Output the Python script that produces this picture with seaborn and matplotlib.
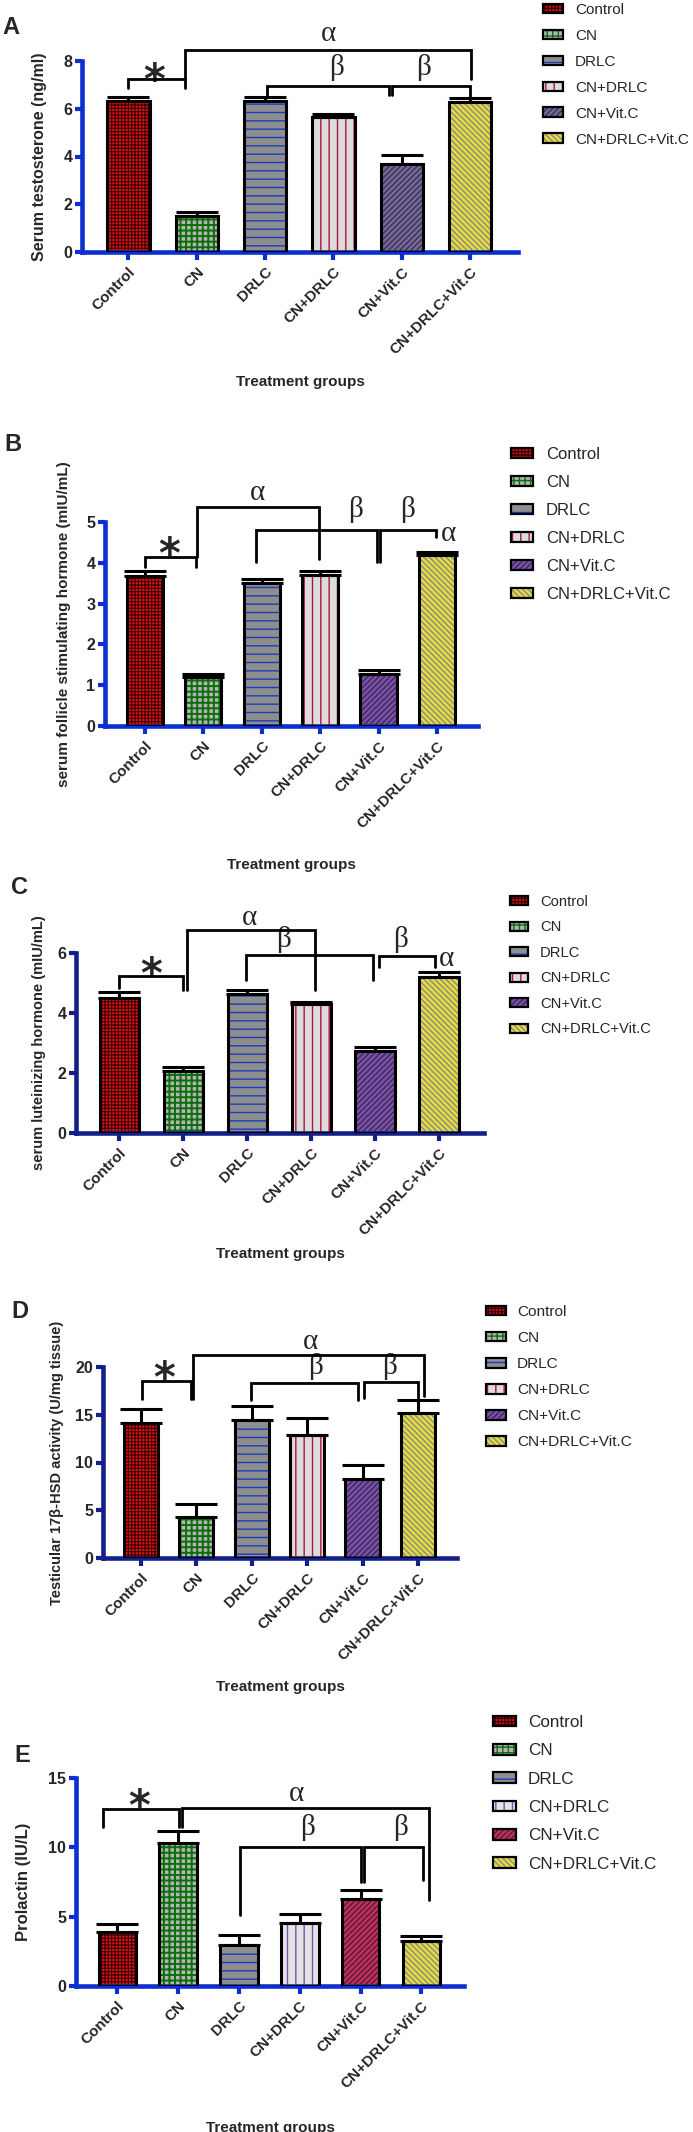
"""
Reproductive hormone panels (A-E)
Bar charts with mean + SEM and significance brackets
"""

import numpy as np
import pandas as pd

import matplotlib
matplotlib.use("Agg")
import matplotlib.pyplot as plt
from matplotlib.patches import Patch, Rectangle
import seaborn as sns

sns.set_style("white")
plt.rcParams["font.family"] = ["Liberation Sans", "DejaVu Sans"]
plt.rcParams["hatch.linewidth"] = 1.0

##########################################################
# Data
##########################################################

groups = ["Control", "CN", "DRLC", "CN+DRLC", "CN+Vit.C", "CN+DRLC+Vit.C"]

testosterone = [6.33, 1.52, 6.34, 5.66, 3.69, 6.30]
testosterone_sem = [0.17, 0.17, 0.16, 0.12, 0.37, 0.17]

fsh = [3.68, 1.20, 3.50, 3.69, 1.27, 4.19]
fsh_sem = [0.12, 0.07, 0.10, 0.11, 0.10, 0.07]

lh = [4.50, 2.08, 4.63, 4.29, 2.73, 5.20]
lh_sem = [0.19, 0.12, 0.15, 0.08, 0.14, 0.16]

hsd = [14.17, 4.26, 14.42, 12.90, 8.27, 15.15]
hsd_sem = [1.40, 1.36, 1.50, 1.80, 1.43, 1.43]

prolactin = [3.89, 10.30, 2.98, 4.54, 6.26, 3.26]
prolactin_sem = [0.55, 0.86, 0.67, 0.62, 0.65, 0.36]

y_labels = [
    "Serum testosterone (ng/ml)",
    "serum follicle stimulating hormone (mIU/mL)",
    "serum luteinizing hormone (mIU/mL)",
    "Testicular 17\u03b2-HSD activity (U/mg tissue)",
    "Prolactin (IU/L)",
]

y_ticks = [
    [0, 2, 4, 6, 8],
    [0, 1, 2, 3, 4, 5],
    [0, 2, 4, 6],
    [0, 5, 10, 15, 20],
    [0, 5, 10, 15],
]

##########################################################
# Bar styles  (face colour, hatch, hatch colour, hatch lw)
##########################################################

base_style = [
    ("#e81010", "+++++", "#300000", 0.8),
    ("#b4b4b4", "+++", "#0b6e0b", 1.4),
    ("#8e8e8e", "--", "#1a3cc0", 1.0),
    ("#dcdcdc", "||", "#b01040", 1.0),
    ("#76689a", "//////", "#3a3050", 1.0),
    ("#e6dc3c", "\\\\\\\\\\\\", "#8a8a8a", 1.0),
]

purple_vitc = ("#7a50a8", "//////", "#3a2a55", 1.0)
red_vitc = ("#c0305e", "//////", "#5a1a30", 1.0)
purple_lines = ("#e4e4e4", "||", "#7a50b0", 1.0)

##########################################################
# Layout helpers (pixel boxes on a 693 x 2132 canvas)
##########################################################

W, H = 693, 2132
XLIM = (-0.68, 5.7)


def fig_box(left, top, right, bottom):
    return [left / W, 1 - bottom / H, (right - left) / W, (bottom - top) / H]


def bracket(ax, x1, x2, ytop, yleft, yright):
    ax.plot(
        [x1, x1, x2, x2],
        [yleft, ytop, ytop, yright],
        color="black",
        lw=2,
        clip_on=False,
        solid_joinstyle="miter",
        zorder=5,
    )


def mark(ax, sym, x, y):
    if sym == "*":
        ax.annotate(
            sym, (x, y), xytext=(0, -8), textcoords="offset points",
            ha="center", va="center", fontsize=30, fontweight="bold",
            family="DejaVu Sans", annotation_clip=False,
        )
    else:
        ax.annotate(
            sym, (x, y), xytext=(0, 2), textcoords="offset points",
            ha="center", va="center", fontsize=21,
            family="Liberation Serif", annotation_clip=False,
        )


##########################################################
# Panel definitions
##########################################################

panels = [
    dict(
        letter="A", letter_xy=(11, 28),
        values=testosterone, sem=testosterone_sem,
        ylabel=y_labels[0], ylabel_size=11.5, ylabel_x=47,
        ticks=y_ticks[0], box=(82, 61, 518, 252), xlabel_y=375,
        axis_color="#0b2fd0",
        styles=base_style,
        legend=dict(x=543, y=3, fs=11, hl=20, pad=12),
        brackets=[
            (0.0, 0.83, 7.25, 6.86, 6.86),
            (0.83, 5.01, 8.46, 7.25, 7.25),
            (2.02, 3.81, 6.95, 6.5, 6.58),
            (3.85, 5.0, 6.95, 6.58, 6.5),
        ],
        marks=[("*", 0.38, 7.6), ("\u03b1", 2.92, 9.02),
               ("\u03b2", 3.04, 7.62), ("\u03b2", 4.32, 7.62)],
    ),
    dict(
        letter="B", letter_xy=(13, 445),
        values=fsh, sem=fsh_sem,
        ylabel=y_labels[1], ylabel_size=11, ylabel_x=71,
        ticks=y_ticks[1], box=(105, 522, 478, 726), xlabel_y=858,
        axis_color="#0b2fd0",
        styles=base_style[:4] + [purple_vitc] + base_style[5:],
        legend=dict(x=511, y=447, fs=12, hl=22, pad=13),
        brackets=[
            (0.0, 0.88, 4.13, 3.9, 3.9),
            (0.9, 2.98, 5.37, 4.13, 4.1),
            (1.91, 3.98, 4.8, 4.02, 4.02),
            (4.02, 4.98, 4.8, 4.02, 4.63),
        ],
        marks=[("*", 0.41, 4.43), ("\u03b1", 1.93, 5.65),
               ("\u03b2", 3.6, 5.24), ("\u03b2", 4.5, 5.24),
               ("\u03b1", 5.19, 4.63)],
    ),
    dict(
        letter="C", letter_xy=(19, 888),
        values=lh, sem=lh_sem,
        ylabel=y_labels[2], ylabel_size=10.5, ylabel_x=46,
        ticks=y_ticks[2], box=(76, 953, 484, 1133), xlabel_y=1247,
        axis_color="#13208a",
        styles=base_style[:4] + [purple_vitc] + base_style[5:],
        legend=dict(x=510, y=895, fs=10.6, hl=18, pad=12),
        brackets=[
            (0.0, 1.0, 5.22, 4.83, 4.78),
            (1.05, 3.05, 6.76, 4.78, 4.78),
            (1.98, 3.97, 5.94, 5.11, 5.11),
            (4.06, 4.93, 5.91, 5.53, 5.53),
        ],
        marks=[("*", 0.5, 5.61), ("\u03b1", 2.04, 7.09),
               ("\u03b2", 2.56, 6.36), ("\u03b2", 4.39, 6.36),
               ("\u03b1", 5.12, 5.72)],
    ),
    dict(
        letter="D", letter_xy=(20, 1311),
        values=hsd, sem=hsd_sem,
        ylabel=y_labels[3], ylabel_size=10.5, ylabel_x=64,
        ticks=y_ticks[3], box=(103, 1367, 457, 1558), xlabel_y=1680,
        axis_color="#13208a",
        styles=base_style[:4] + [purple_vitc] + base_style[5:],
        legend=dict(x=486, y=1305, fs=11.1, hl=20, pad=11),
        brackets=[
            (0.02, 0.91, 18.53, 16.68, 16.68),
            (0.95, 5.1, 21.26, 16.68, 16.93),
            (1.99, 3.91, 18.32, 16.58, 16.58),
            (4.03, 5.0, 18.43, 16.79, 16.79),
        ],
        marks=[("*", 0.42, 19.83), ("\u03b1", 3.06, 22.37),
               ("\u03b2", 3.15, 19.72), ("\u03b2", 4.49, 19.72)],
    ),
    dict(
        letter="E", letter_xy=(22, 1755),
        values=prolactin, sem=prolactin_sem,
        ylabel=y_labels[4], ylabel_size=12, ylabel_x=31,
        ticks=y_ticks[4], box=(76, 1778, 464, 1986), xlabel_y=2121,
        axis_color="#0b2fd0",
        styles=base_style[:3] + [purple_lines, red_vitc] + base_style[5:],
        legend=dict(x=493, y=1715, fs=12.3, hl=23, pad=12),
        brackets=[
            (-0.23, 1.01, 12.74, 11.47, 11.47),
            (1.07, 5.13, 12.84, 11.47, 6.19),
            (2.02, 4.01, 10.03, 5.11, 7.51),
            (4.06, 5.02, 10.03, 7.51, 7.63),
        ],
        marks=[("*", 0.36, 13.63), ("\u03b1", 2.94, 13.63),
               ("\u03b2", 3.13, 11.23), ("\u03b2", 4.66, 11.23)],
    ),
]

##########################################################
# Draw
##########################################################

fig = plt.figure(figsize=(W / 100, H / 100), dpi=100)

for p in panels:

    left, top, right, bottom = p["box"]
    ax = fig.add_axes(fig_box(left, top, right, bottom))

    df = pd.DataFrame({"group": groups, "value": p["values"]})
    faces = [s[0] for s in p["styles"]]

    sns.barplot(
        data=df, x="group", y="value", hue="group",
        palette=faces, saturation=1, width=0.62,
        errorbar=None, legend=False, ax=ax,
    )

    # hatch fill, then a black outline drawn on top
    for bar, (face, hatch, hcol, hlw) in zip(ax.patches, p["styles"]):
        bar.set_hatch(hatch)
        bar.set_edgecolor(hcol)
        bar.set_linewidth(0)
        if hasattr(bar, "set_hatch_linewidth"):
            bar.set_hatch_linewidth(hlw)
        ax.add_patch(Rectangle(
            (bar.get_x(), bar.get_y()), bar.get_width(), bar.get_height(),
            fill=False, edgecolor="black", linewidth=2.2, zorder=3,
        ))

    ax.errorbar(
        np.arange(len(groups)), p["values"],
        yerr=[np.zeros(len(groups)), p["sem"]],
        fmt="none", ecolor="black", elinewidth=2.2,
        capsize=15, capthick=2.2, zorder=2,
    )

    ax.set_xlim(*XLIM)
    ax.set_ylim(p["ticks"][0], p["ticks"][-1])
    ax.set_yticks(p["ticks"])
    ax.set_xticks(range(len(groups)))
    ax.set_xticklabels(
        groups, rotation=45, ha="right", rotation_mode="anchor",
        fontweight="bold", fontsize=11,
    )
    for lab in ax.get_yticklabels():
        lab.set_fontweight("bold")

    sns.despine(ax=ax)
    for side in ["left", "bottom"]:
        ax.spines[side].set_color(p["axis_color"])
        ax.spines[side].set_linewidth(3.3)

    ax.tick_params(axis="x", bottom=True, length=6, width=3,
                   color=p["axis_color"], pad=3)
    ax.tick_params(axis="y", left=True, length=5, width=3,
                   color=p["axis_color"], labelsize=11.5, pad=2)

    ax.set_xlabel("Treatment groups", fontweight="bold", fontsize=11)
    ax.xaxis.set_label_coords(0.5, -(p["xlabel_y"] - bottom) / (bottom - top))

    ax.set_ylabel(p["ylabel"], fontweight="bold", fontsize=p["ylabel_size"])
    ax.yaxis.set_label_coords((p["ylabel_x"] - left) / (right - left), 0.5)

    for b in p["brackets"]:
        bracket(ax, *b)
    for sym, x, y in p["marks"]:
        mark(ax, sym, x, y)

    # legend
    lg = p["legend"]
    fs_px = lg["fs"] / 72 * 100
    handles = [
        (Patch(facecolor=f, hatch=h, edgecolor=c, linewidth=0),
         Patch(facecolor="none", edgecolor="black", linewidth=1.6))
        for f, h, c, _ in p["styles"]
    ]
    fig.legend(
        handles, groups, loc="upper left",
        bbox_to_anchor=(lg["x"] / W, 1 - lg["y"] / H),
        frameon=False, fontsize=lg["fs"],
        handlelength=lg["hl"] / fs_px, handleheight=0.6,
        handletextpad=lg["pad"] / fs_px, labelspacing=0.78,
        borderpad=0, borderaxespad=0,
    )

    fx, fy = p["letter_xy"]
    fig.text(fx / W, 1 - fy / H, p["letter"], fontsize=17,
             fontweight="bold", ha="center", va="center")

fig.savefig("out.png", dpi=100)
